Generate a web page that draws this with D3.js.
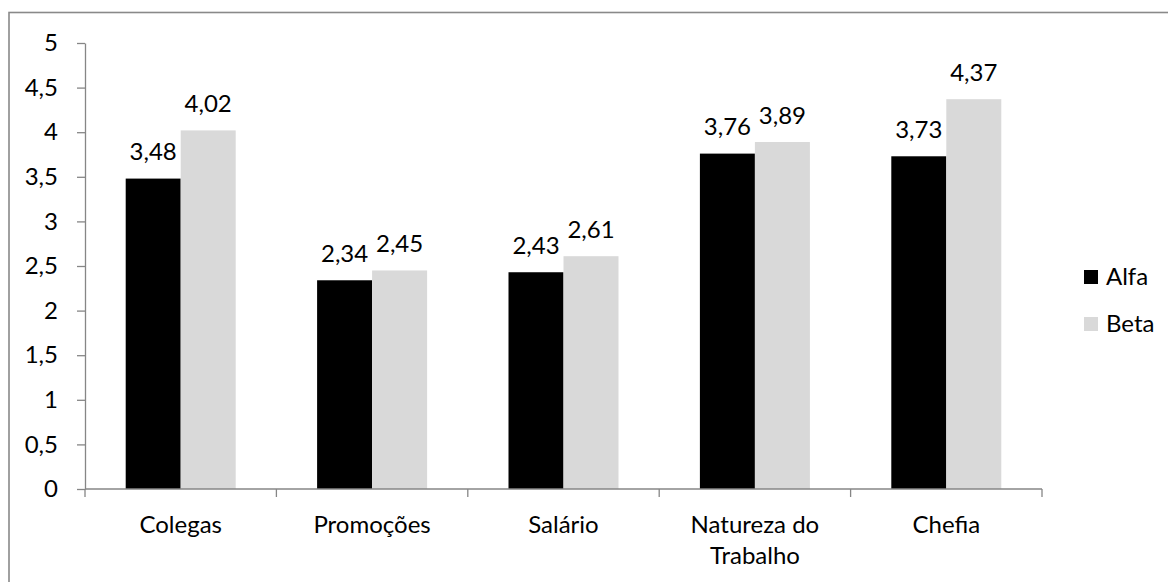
<!DOCTYPE html>
<html>
<head>
<meta charset="utf-8">
<script src="https://cdn.jsdelivr.net/npm/d3@7"></script>
<style>
  html, body { margin: 0; padding: 0; background: #fff; }
  svg { display: block; font-family: Lato, "Open Sans", sans-serif; }
</style>
</head>
<body>
<svg id="chart" width="1168" height="582"></svg>
<script>
// Categories, series and axis ticks
const categories = ["Colegas", "Promoções", "Salário", "Natureza do Trabalho", "Chefia"];
const categoryLines = [["Colegas"], ["Promoções"], ["Salário"], ["Natureza do", "Trabalho"], ["Chefia"]];
const seriesNames = ["Alfa", "Beta"];
const alfaValues = [3.48, 2.34, 2.43, 3.76, 3.73];
const betaValues = [4.02, 2.45, 2.61, 3.89, 4.37];
const yTicks = [0, 0.5, 1, 1.5, 2, 2.5, 3, 3.5, 4, 4.5, 5];
const seriesColors = ["#000000", "#d9d9d9"];

const fmt = v => String(v).replace(".", ",");

const svg = d3.select("#chart");
const plot = { left: 85, right: 1042, top: 43, bottom: 489 };
const fontSize = 24;
const axisColor = "#868686";

// outer chart frame
svg.append("rect")
  .attr("x", 9).attr("y", 12.5)
  .attr("width", 1170).attr("height", 600)
  .attr("fill", "none").attr("stroke", "#898989").attr("stroke-width", 1.6);

const x = d3.scaleBand().domain(categories).range([plot.left, plot.right]).paddingInner(0).paddingOuter(0);
const inner = d3.scaleBand().domain(seriesNames).range([0, x.bandwidth()]).paddingInner(0).paddingOuter(0.74);
const y = d3.scaleLinear().domain([0, 5]).range([plot.bottom, plot.top]);

const rows = categories.map((c, i) => ({ cat: c, values: [alfaValues[i], betaValues[i]] }));

// bars
const groups = svg.append("g").selectAll("g").data(rows).join("g")
  .attr("transform", d => `translate(${x(d.cat)},0)`);

groups.selectAll("rect").data(d => d.values.map((v, k) => ({ v, k })))
  .join("rect")
  .attr("x", d => inner(seriesNames[d.k]))
  .attr("width", inner.bandwidth())
  .attr("y", d => y(d.v))
  .attr("height", d => y(0) - y(d.v))
  .attr("fill", d => seriesColors[d.k]);

// value labels
groups.selectAll("text").data(d => d.values.map((v, k) => ({ v, k })))
  .join("text")
  .attr("x", d => inner(seriesNames[d.k]) + inner.bandwidth() / 2)
  .attr("y", d => y(d.v) - 18.5)
  .attr("text-anchor", "middle")
  .attr("font-size", fontSize)
  .attr("fill", "#000")
  .text(d => fmt(d.v));

// y axis
const yAxis = svg.append("g")
  .attr("transform", `translate(${plot.left},0)`)
  .call(d3.axisLeft(y).tickValues(yTicks).tickSize(8).tickPadding(19).tickFormat(fmt).tickSizeOuter(0));
yAxis.select(".domain").attr("stroke", axisColor).attr("stroke-width", 1.3);
yAxis.selectAll(".tick line").attr("stroke", axisColor).attr("stroke-width", 1.3);
yAxis.selectAll(".tick text").attr("font-size", fontSize).attr("font-family", "Lato, sans-serif").attr("fill", "#000");

// x axis with category-boundary ticks
const boundaries = categories.map(c => x(c)).concat([plot.right]);
const xAxisG = svg.append("g");
xAxisG.append("line")
  .attr("x1", plot.left).attr("x2", plot.right)
  .attr("y1", y(0)).attr("y2", y(0))
  .attr("stroke", axisColor).attr("stroke-width", 1.3);
xAxisG.selectAll("line.tk").data(boundaries).join("line")
  .attr("class", "tk")
  .attr("x1", d => d).attr("x2", d => d)
  .attr("y1", y(0)).attr("y2", y(0) + 8)
  .attr("stroke", axisColor).attr("stroke-width", 1.3);

const catLabels = xAxisG.selectAll("text").data(categories).join("text")
  .attr("x", d => x(d) + x.bandwidth() / 2)
  .attr("y", 533)
  .attr("text-anchor", "middle")
  .attr("font-size", fontSize)
  .attr("fill", "#000");
catLabels.selectAll("tspan").data((d, i) => categoryLines[i]).join("tspan")
  .attr("x", function () { return this.parentNode.getAttribute("x"); })
  .attr("dy", (d, j) => j === 0 ? 0 : 31)
  .text(d => d);

// legend
const legend = svg.append("g").selectAll("g").data(seriesNames).join("g")
  .attr("transform", (d, i) => `translate(1084,${270 + i * 47})`);
legend.append("rect")
  .attr("width", 14).attr("height", 14)
  .attr("fill", (d, i) => seriesColors[i]);
legend.append("text")
  .attr("x", 22).attr("y", 15)
  .attr("font-size", fontSize)
  .attr("fill", "#000")
  .text(d => d);
</script>
</body>
</html>
